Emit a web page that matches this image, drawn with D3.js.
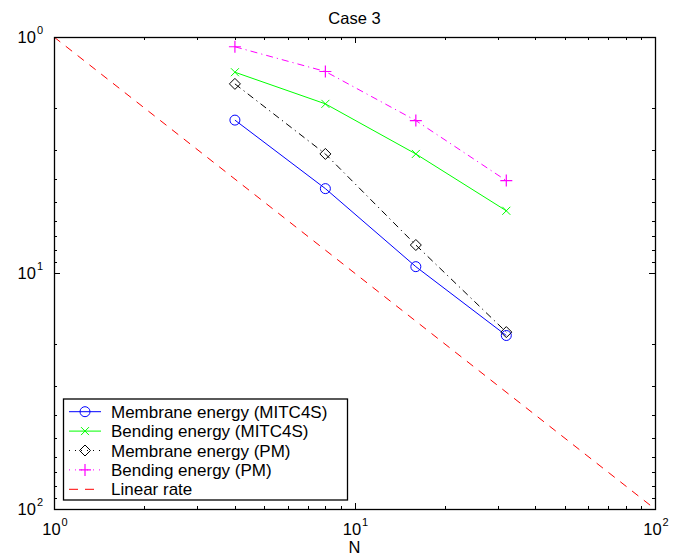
<!DOCTYPE html>
<html>
<head>
<meta charset="utf-8">
<script src="https://cdn.jsdelivr.net/npm/d3@7"></script>
<style>
  html, body { margin: 0; padding: 0; background: #fff; }
  svg { display: block; font-family: "Liberation Sans", Arial, Helvetica, sans-serif; }
</style>
</head>
<body>
<svg id="chart" width="680" height="556"></svg>
<script>
// Mesh sizes and energy-norm values for each series
const meshN = [4, 8, 16, 32];
const membraneMITC4S = [2.25, 4.39, 9.40, 18.4];
const bendingMITC4S = [1.41, 1.92, 3.13, 5.45];
const membranePM = [1.58, 3.13, 7.61, 17.8];
const bendingPM = [1.10, 1.40, 2.26, 4.06];
const linearN = [1, 100];
const linearRate = [1, 100];
const xTickExponents = [0, 1, 2];
const yTickExponents = [0, 1, 2];
const titleText = "Case 3";
const xLabelText = "N";

const svg = d3.select("#chart");
const plot = { left: 54, right: 655, top: 37, bottom: 509 };

const x = d3.scaleLog().domain([1, 100]).range([plot.left, plot.right]);
const y = d3.scaleLog().domain([1, 100]).range([plot.top, plot.bottom]);

const series = [
  { name: "Membrane energy (MITC4S)", xs: meshN, ys: membraneMITC4S, color: "#0000ff", dash: null, marker: "circle" },
  { name: "Bending energy (MITC4S)", xs: meshN, ys: bendingMITC4S, color: "#00ff00", dash: null, marker: "x" },
  { name: "Membrane energy (PM)", xs: meshN, ys: membranePM, color: "#000000", dash: "7,4,1.2,4", marker: "diamond" },
  { name: "Bending energy (PM)", xs: meshN, ys: bendingPM, color: "#ff00ff", dash: "7,4,1.2,4", marker: "plus" },
  { name: "Linear rate", xs: linearN, ys: linearRate, color: "#ff0000", dash: "8,7", marker: null }
];

// Minor and major ticks pointing inward on all four sides
const tickG = svg.append("g").attr("stroke", "#000").attr("stroke-width", 1);
const xt = x.ticks();
const yt = y.ticks();
const isMajor = v => Math.abs(Math.log10(v) - Math.round(Math.log10(v))) < 1e-9;
xt.forEach(v => {
  const px = Math.round(x(v)) + 0.5;
  const len = isMajor(v) ? 6 : 3;
  tickG.append("line").attr("x1", px).attr("x2", px).attr("y1", plot.bottom).attr("y2", plot.bottom - len);
  tickG.append("line").attr("x1", px).attr("x2", px).attr("y1", plot.top).attr("y2", plot.top + len);
});
yt.forEach(v => {
  const py = Math.round(y(v)) + 0.5;
  const len = isMajor(v) ? 6 : 3;
  tickG.append("line").attr("y1", py).attr("y2", py).attr("x1", plot.left).attr("x2", plot.left + len);
  tickG.append("line").attr("y1", py).attr("y2", py).attr("x1", plot.right).attr("x2", plot.right - len);
});

// Clip for the data lines
svg.append("clipPath").attr("id", "plotClip").append("rect")
  .attr("x", plot.left).attr("y", plot.top)
  .attr("width", plot.right - plot.left).attr("height", plot.bottom - plot.top);

const dataG = svg.append("g").attr("clip-path", "url(#plotClip)");
const line = d3.line().x(d => x(d[0])).y(d => y(d[1]));

function drawMarker(g, type, cx, cy, color) {
  if (type === "circle") {
    g.append("circle").attr("cx", cx).attr("cy", cy).attr("r", 5)
      .attr("fill", "none").attr("stroke", color).attr("stroke-width", 1);
  } else if (type === "x") {
    const s = 4;
    g.append("path").attr("d", `M${cx - s},${cy - s}L${cx + s},${cy + s}M${cx - s},${cy + s}L${cx + s},${cy - s}`)
      .attr("stroke", color).attr("stroke-width", 1).attr("fill", "none");
  } else if (type === "diamond") {
    const s = 5.5;
    g.append("path").attr("d", `M${cx},${cy - s}L${cx + s},${cy}L${cx},${cy + s}L${cx - s},${cy}Z`)
      .attr("stroke", color).attr("stroke-width", 1).attr("fill", "none");
  } else if (type === "plus") {
    const s = 6;
    g.append("path").attr("d", `M${cx - s},${cy}L${cx + s},${cy}M${cx},${cy - s}L${cx},${cy + s}`)
      .attr("stroke", color).attr("stroke-width", 1.2).attr("fill", "none");
  }
}

// Draw linear rate first so the energy curves sit on top
[series[4], series[0], series[1], series[2], series[3]].forEach(s => {
  const pts = s.xs.map((v, i) => [v, s.ys[i]]);
  dataG.append("path").datum(pts).attr("d", line)
    .attr("fill", "none").attr("stroke", s.color).attr("stroke-width", 1)
    .attr("stroke-dasharray", s.dash);
  if (s.marker) pts.forEach(p => drawMarker(dataG, s.marker, x(p[0]), y(p[1]), s.color));
});

// Axes frame
svg.append("rect").attr("x", plot.left + 0.5).attr("y", plot.top + 0.5)
  .attr("width", plot.right - plot.left).attr("height", plot.bottom - plot.top)
  .attr("fill", "none").attr("stroke", "#000").attr("stroke-width", 1.3);

// Tick labels as powers of ten
function powerLabel(g, e, px, py, anchor) {
  const t = g.append("text").attr("x", px).attr("y", py).attr("text-anchor", anchor)
    .attr("font-size", 16.5).attr("fill", "#000");
  t.append("tspan").text("10");
  t.append("tspan").attr("font-size", 11).attr("dy", -9).attr("dx", 1).text(String(e));
}
const labelG = svg.append("g");
xTickExponents.forEach(e => powerLabel(labelG, e, x(Math.pow(10, e)) + 1, 535, "middle"));
yTickExponents.forEach(e => powerLabel(labelG, e, 43, y(Math.pow(10, e)) + 6, "end"));

// Title and axis label
svg.append("text").attr("x", (plot.left + plot.right) / 2).attr("y", 24)
  .attr("text-anchor", "middle").attr("font-size", 16.5).text(titleText);
svg.append("text").attr("x", (plot.left + plot.right) / 2).attr("y", 553)
  .attr("text-anchor", "middle").attr("font-size", 16.5).text(xLabelText);

// Legend
const leg = { x: 63.5, y: 399, w: 284, h: 101, row0: 411.7, rowStep: 19.4 };
const legG = svg.append("g");
legG.append("rect").attr("x", leg.x).attr("y", leg.y).attr("width", leg.w).attr("height", leg.h)
  .attr("fill", "#fff").attr("stroke", "#000").attr("stroke-width", 1.3);
series.forEach((s, i) => {
  const ry = leg.row0 + i * leg.rowStep;
  legG.append("line").attr("x1", 69).attr("x2", 101).attr("y1", ry).attr("y2", ry)
    .attr("stroke", s.color).attr("stroke-width", 1)
    .attr("stroke-dasharray", s.marker === null ? "9,7" : (s.dash ? "1,5" : null));
  if (s.marker) drawMarker(legG, s.marker, 85, ry, s.color);
  legG.append("text").attr("x", 111).attr("y", ry + 6).attr("font-size", 17).text(s.name);
});
</script>
</body>
</html>
